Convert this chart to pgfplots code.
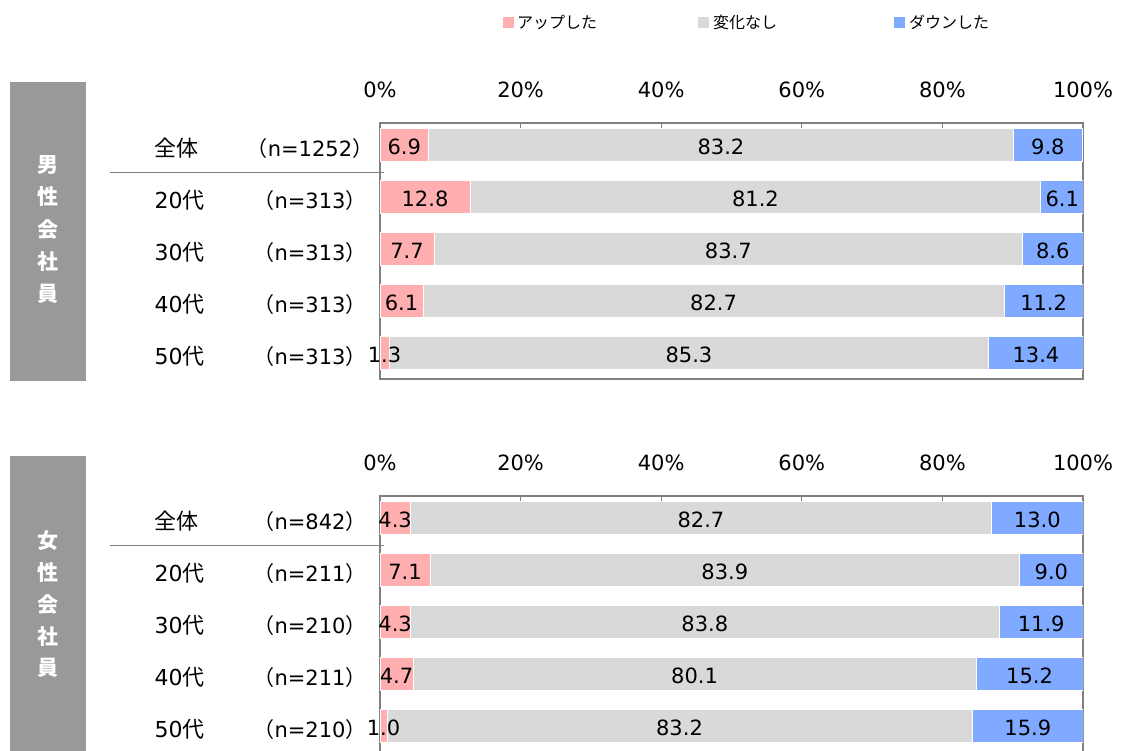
\documentclass[border=0pt]{standalone}
\usepackage{pgfplots}
\pgfplotsset{compat=1.18}
\usepackage{pgfplotstable}
\usepackage{fontspec}
\setmainfont{DejaVu Sans}
\newfontfamily\jp{Noto Sans CJK JP}
\definecolor{pinkc}{HTML}{FFAFAF}
\definecolor{grayc}{HTML}{D9D9D9}
\definecolor{bluec}{HTML}{80AAFF}
\definecolor{boxc}{HTML}{999999}
\definecolor{linec}{HTML}{808080}

\pgfplotstableread{
y a b c
0 6.9 83.2 9.8
1 12.8 81.2 6.1
2 7.7 83.7 8.6
3 6.1 82.7 11.2
4 1.3 85.3 13.4
}\male
\pgfplotstableread{
y a b c
0 4.3 82.7 13.0
1 7.1 83.9 9.0
2 4.3 83.8 11.9
3 4.7 80.1 15.2
4 1.0 83.2 15.9
}\female

\newcommand\fs[1]{\fontsize{#1bp}{#1bp}\selectfont}

\pgfplotsset{
  panel/.style={
    scale only axis, width=703bp, height=256bp,
    xmin=0, xmax=100, ymin=-0.42, ymax=4.5, y dir=reverse,
  },
  barpanel/.style={panel,
    xbar stacked, bar width=33bp,
    axis line style={draw=linec, line width=1.2bp},
    xtick={0,20,...,100}, xtick pos=right, xticklabel pos=right,
    xticklabel={\pgfmathprintnumber{\tick}\%},
    ytick=\empty,
    major tick length=6bp, tick style={draw=linec, line width=1bp},
    xticklabel style={font=\fs{21}, anchor=base, yshift=26bp},
    /pgf/number format/assume math mode=true,
  },
  labpanel/.style={panel, hide axis, clip=false,
    nodes near coords, point meta=explicit,
    nodes near coords style={font=\fs{21}, anchor=center, yshift=-2bp, text=black,
      /pgf/number format/.cd, fixed, fixed zerofill, precision=1, assume math mode=true},
  },
}

\newcommand\rowlab[3]{%
  \node[anchor=base west, font=\fs{22}] at (151,-#1) {#2};
  \node[anchor=base, font=\fs{21}] at (310,-#1) {{\jp （}n=#3{\jp ）}};
}

\begin{document}
\begin{tikzpicture}[x=1bp,y=1bp]
% side boxes
\fill[boxc] (10,-82) rectangle (86,-381);
\fill[boxc] (10,-456) rectangle (86,-770);
\foreach \ch/\yy in {男/165,性/197,会/230,社/262,員/294}
  \node[font=\fs{21}\jp\bfseries, text=white] at (48,-\yy) {\ch};
\foreach \ch/\yy in {女/541,性/573,会/605,社/637,員/668}
  \node[font=\fs{21}\jp\bfseries, text=white] at (48,-\yy) {\ch};

% legend
\fill[pinkc] (503,-17.3) rectangle (513.5,-28);
\node[anchor=base west, font=\fs{16}\jp, inner sep=0] at (517,-28.5) {アップした};
\fill[grayc] (698,-17.3) rectangle (708.5,-28);
\node[anchor=base west, font=\fs{16}\jp, inner sep=0] at (713,-28.5) {変化なし};
\fill[bluec] (894,-17.3) rectangle (904.5,-28);
\node[anchor=base west, font=\fs{16}\jp, inner sep=0] at (909,-28.5) {ダウンした};

% separators
\draw[linec, line width=1.5bp] (110,-172.5) -- (384,-172.5);
\draw[linec, line width=1.5bp] (110,-545.5) -- (384,-545.5);

% row labels top
\rowlab{156}{{\jp 全体}}{1252}
\rowlab{208}{20{\jp 代}}{313}
\rowlab{260}{30{\jp 代}}{313}
\rowlab{312}{40{\jp 代}}{313}
\rowlab{364}{50{\jp 代}}{313}
% row labels bottom
\rowlab{529}{{\jp 全体}}{842}
\rowlab{581}{20{\jp 代}}{211}
\rowlab{633}{30{\jp 代}}{210}
\rowlab{685}{40{\jp 代}}{211}
\rowlab{737}{50{\jp 代}}{210}

% top panel
\begin{axis}[barpanel, at={(380bp,-379bp)}, anchor=south west]
\addplot[fill=pinkc, draw=white, line width=0.7bp] table[x=a,y=y]{\male};
\addplot[fill=grayc, draw=white, line width=0.7bp] table[x=b,y=y]{\male};
\addplot[fill=bluec, draw=white, line width=0.7bp] table[x=c,y=y]{\male};
\end{axis}
\begin{axis}[labpanel, at={(380bp,-379bp)}, anchor=south west]
\addplot[draw=none, mark=none] table[x expr=\thisrow{a}/2, y=y, meta=a]{\male};
\addplot[draw=none, mark=none] table[x expr=\thisrow{a}+\thisrow{b}/2, y=y, meta=b]{\male};
\addplot[draw=none, mark=none] table[x expr=\thisrow{a}+\thisrow{b}+\thisrow{c}/2, y=y, meta=c]{\male};
\end{axis}

% bottom panel
\begin{axis}[barpanel, at={(380bp,-752bp)}, anchor=south west]
\addplot[fill=pinkc, draw=white, line width=0.7bp] table[x=a,y=y]{\female};
\addplot[fill=grayc, draw=white, line width=0.7bp] table[x=b,y=y]{\female};
\addplot[fill=bluec, draw=white, line width=0.7bp] table[x=c,y=y]{\female};
\end{axis}
\begin{axis}[labpanel, at={(380bp,-752bp)}, anchor=south west]
\addplot[draw=none, mark=none] table[x expr=\thisrow{a}/2, y=y, meta=a]{\female};
\addplot[draw=none, mark=none] table[x expr=\thisrow{a}+\thisrow{b}/2, y=y, meta=b]{\female};
\addplot[draw=none, mark=none] table[x expr=\thisrow{a}+\thisrow{b}+\thisrow{c}/2, y=y, meta=c]{\female};
\end{axis}

\pgfresetboundingbox
\path[use as bounding box] (0,0) rectangle (1121,-751);
\end{tikzpicture}
\end{document}
